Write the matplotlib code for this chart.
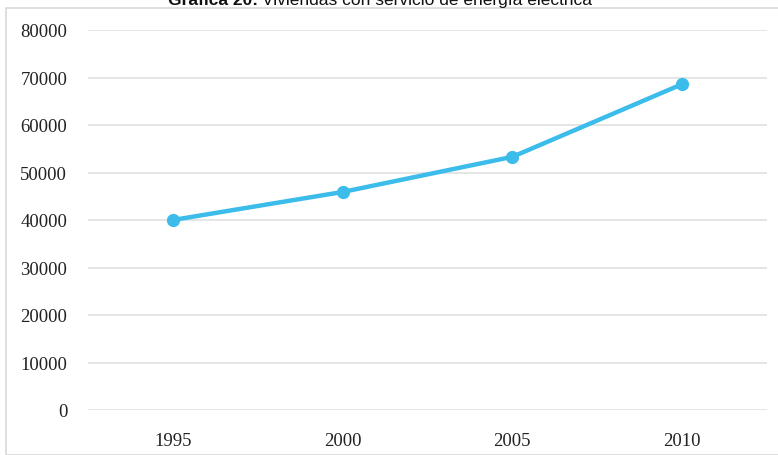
import matplotlib; matplotlib.use("Agg"); import matplotlib.pyplot as plt
from matplotlib.patches import Rectangle

years = ["1995", "2000", "2005", "2010"]
viviendas = [40000, 45900, 53300, 68600]
yticks = [0, 10000, 20000, 30000, 40000, 50000, 60000, 70000, 80000]

W, H = 778, 456
fig = plt.figure(figsize=(W/100, H/100), dpi=100)
ax = fig.add_axes([88/W, 1 - 411/H, (767 - 88)/W, (411 - 31)/H])

# marco gris claro alrededor del grafico
fig.patches.append(Rectangle((6/W, 0), 1, 1 - 9/H, transform=fig.transFigure,
                             fill=False, ec="#d9d9d9", lw=1.2))

x = range(len(years))
ax.plot(x, viviendas, color="#3bbcea", lw=3.2, marker="o", ms=8.5,
        solid_capstyle="round", zorder=3)
ax.set_xlim(-0.5, len(years) - 0.5); ax.set_ylim(0, 80000)
ax.set_xticks(list(x)); ax.set_xticklabels(years)
ax.set_yticks(yticks); ax.set_yticklabels([str(v) for v in yticks])
ax.grid(axis="y", color="#e3e3e3", lw=1.3)
ax.set_axisbelow(True)
for s in ax.spines.values(): s.set_visible(False)
ax.tick_params(length=0, labelsize=13.5, colors="#222222")
ax.tick_params(axis="y", pad=15); ax.tick_params(axis="x", pad=16)
for lab in ax.get_xticklabels() + ax.get_yticklabels():
    lab.set_family("Liberation Serif")

# titulo (cortado en la parte superior como en el original)
fig.text(258/W, 1 - 5/H, "Gráfica 20:", ha="right", va="baseline",
         fontsize=12.5, fontweight="bold", family="Liberation Sans", color="#111111")
fig.text(262/W, 1 - 5/H, "Viviendas con servicio de energía eléctrica", ha="left",
         va="baseline", fontsize=12.5, family="Liberation Sans", color="#111111")

fig.savefig("out.png", dpi=100)
